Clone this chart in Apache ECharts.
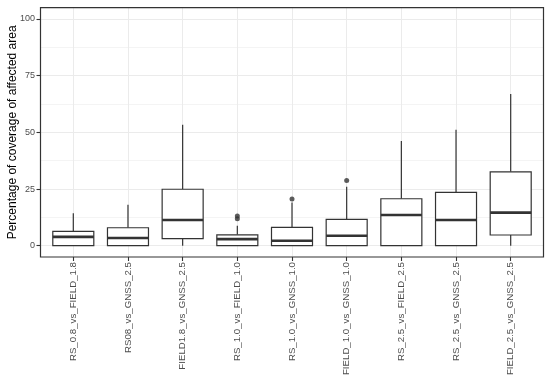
<!DOCTYPE html>
<html>
<head>
<meta charset="utf-8">
<script src="https://cdn.jsdelivr.net/npm/echarts@6/dist/echarts.min.js"></script>
<style>html,body{margin:0;padding:0;background:#fff}#c{width:550px;height:380px}</style>
</head>
<body>
<div id="c"></div>
<script>
var categories = ['RS_0.8_vs_FIELD_1.8','RS08_vs_GNSS_2.5','FIELD1.8_vs_GNSS_2.5','RS_1.0_vs_FIELD_1.0','RS_1.0_vs_GNSS_1.0','FIELD_1.0_vs_GNSS_1.0','RS_2.5_vs_FIELD_2.5','RS_2.5_vs_GNSS_2.5','FIELD_2.5_vs_GNSS_2.5'];
var lowerWhisker = [0, 0, 0, 0, 0, 0, 0, 0, 0];
var q1 = [0, 0, 3.1, 0, 0, 0, 0, 0, 4.7];
var median = [3.9, 3.4, 11.3, 2.9, 2.2, 4.4, 13.5, 11.3, 14.6];
var q3 = [6.3, 7.9, 24.9, 4.8, 8.1, 11.6, 20.7, 23.5, 32.6];
var upperWhisker = [14.3, 18.0, 53.4, 8.8, 19.0, 26.0, 46.2, 51.2, 66.9];
var outliers = [[3, 13.1], [3, 11.9], [4, 20.6], [5, 28.8]];
var yTicks = [0, 25, 50, 75, 100];

var boxData = categories.map(function (c, i) {
  return [i, lowerWhisker[i], q1[i], median[i], q3[i], upperWhisker[i]];
});

var FONT = 'Liberation Sans, Arial, sans-serif';
var chart = echarts.init(document.getElementById('c'), null, {renderer: 'canvas'});

function renderBox(params, api) {
  var x = api.value(0);
  var pMin = api.coord([x, api.value(1)]);
  var pQ1 = api.coord([x, api.value(2)]);
  var pMed = api.coord([x, api.value(3)]);
  var pQ3 = api.coord([x, api.value(4)]);
  var pMax = api.coord([x, api.value(5)]);
  var w = api.size([1, 0])[0] * 0.75;
  var cx = pMed[0];
  var stroke = {stroke: '#333333', lineWidth: 1.2};
  return {
    type: 'group',
    children: [
      {type: 'line', shape: {x1: cx, y1: pMin[1], x2: cx, y2: pQ1[1]}, style: stroke},
      {type: 'line', shape: {x1: cx, y1: pQ3[1], x2: cx, y2: pMax[1]}, style: stroke},
      {type: 'rect', shape: {x: cx - w / 2, y: pQ3[1], width: w, height: pQ1[1] - pQ3[1]},
        style: {fill: '#ffffff', stroke: '#333333', lineWidth: 1.2}},
      {type: 'line', shape: {x1: cx - w / 2, y1: pMed[1], x2: cx + w / 2, y2: pMed[1]},
        style: {stroke: '#333333', lineWidth: 2.6}}
    ]
  };
}

chart.setOption({
  animation: false,
  backgroundColor: '#ffffff',
  textStyle: {fontFamily: FONT},
  grid: [
    {left: 40.5, right: 6.5, top: 7.7, bottom: 123, show: true, borderColor: '#333333', borderWidth: 1.2, backgroundColor: 'transparent', z: 5, outerBoundsMode: 'none', containLabel: false},
    {left: 73.3, right: 39.3, top: 7.7, bottom: 123, outerBoundsMode: 'none', containLabel: false},
    {left: 40.5, right: 6.5, top: 19, bottom: 134.3, outerBoundsMode: 'none', containLabel: false}
  ],
  xAxis: [
    {gridIndex: 0, type: 'value', show: false, min: 0, max: 1},
    {gridIndex: 1, type: 'category', data: categories, boundaryGap: false, position: 'bottom',
      axisLine: {show: false, onZero: false},
      axisTick: {show: true, length: 4, lineStyle: {color: '#333333', width: 1.1}},
      axisLabel: {rotate: 90, fontSize: 9.7, color: '#4D4D4D', margin: 5, fontFamily: FONT, interval: 0},
      splitLine: {show: true, lineStyle: {color: '#EBEBEB', width: 1}}},
    {gridIndex: 2, type: 'value', show: false, min: 0, max: 1}
  ],
  yAxis: [
    {gridIndex: 0, type: 'value', show: false, min: 0, max: 1},
    {gridIndex: 1, type: 'value', min: -5, max: 105, show: false},
    {gridIndex: 2, type: 'value', min: yTicks[0], max: yTicks[yTicks.length - 1], interval: 25, position: 'left',
      name: 'Percentage of coverage of affected area', nameLocation: 'middle', nameGap: 22, nameMoveOverlap: false,
      nameTextStyle: {fontSize: 12, color: '#000000', fontFamily: FONT},
      axisLine: {show: false, onZero: false},
      axisTick: {show: true, length: 4, lineStyle: {color: '#333333', width: 1.1}},
      axisLabel: {fontSize: 9, color: '#4D4D4D', margin: 5.5, fontFamily: FONT},
      splitLine: {show: true, lineStyle: {color: '#EBEBEB', width: 1}},
      minorTick: {show: false, splitNumber: 2},
      minorSplitLine: {show: true, lineStyle: {color: '#F4F4F4', width: 1}}}
  ],
  series: [
    {type: 'custom', xAxisIndex: 1, yAxisIndex: 1, data: boxData, renderItem: renderBox,
      encode: {x: 0, y: [1, 2, 3, 4, 5]}, z: 3},
    {type: 'scatter', xAxisIndex: 1, yAxisIndex: 1, data: outliers, symbolSize: 5,
      itemStyle: {color: '#333333'}, z: 4}
  ]
});
</script>
</body>
</html>
